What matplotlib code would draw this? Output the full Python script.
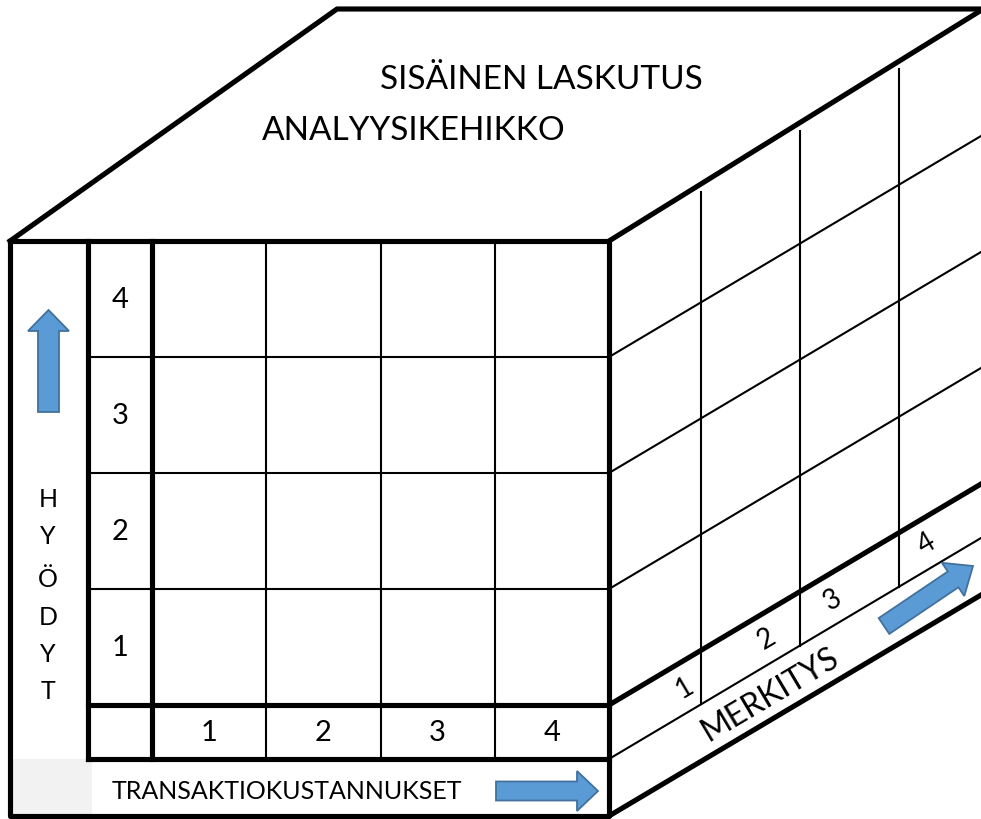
import numpy as np
import matplotlib
matplotlib.use("Agg")
import matplotlib.pyplot as plt
from matplotlib.patches import FancyArrow, Rectangle

# ---- text content ----
title_lines = ["SISÄINEN LASKUTUS", "ANALYYSIKEHIKKO"]
row_labels = ["4", "3", "2", "1"]          # HYÖDYT levels (top to bottom)
col_labels = ["1", "2", "3", "4"]          # TRANSAKTIOKUSTANNUKSET levels
depth_labels = ["1", "2", "3", "4"]        # MERKITYS levels
y_axis_name = "HYÖDYT"
x_axis_name = "TRANSAKTIOKUSTANNUKSET"
z_axis_name = "MERKITYS"

# ---- geometry (pixel space) ----
W, H = 981, 820
FL, FR, FT, FB = 10, 609, 242, 817        # front face
LAB_X, COL0 = 88, 152                     # label column borders
ROW_BOTTOM, BAND_BOTTOM = 706, 760        # numbers row / axis-title band
DEPTH_DX, DEPTH_DY = 372, -221            # depth direction of right face
TOP_BACK_L = (337, 10)
TOP_BACK_R = (980, 10)
depth_x = [701, 800, 899]                 # right-face vertical dividers
depth_label_x = [685, 767, 833, 927]

THICK, THIN = 3.7, 1.5
font = ["Lato", "DejaVu Sans"]
blue, blue_edge = "#5b9bd5", "#41719c"

fig = plt.figure(figsize=(W / 100, H / 100), dpi=100)
ax = fig.add_axes([0, 0, 1, 1])
ax.set_xlim(0, W)
ax.set_ylim(H, 0)
ax.axis("off")

def line(x, y, lw, **kw):
    ax.plot(x, y, color="black", lw=lw, solid_capstyle="projecting", **kw)

# grey corner cell
ax.add_patch(Rectangle((FL + 2, BAND_BOTTOM), LAB_X + 4 - FL - 2, FB - BAND_BOTTOM,
                       facecolor="#f2f2f2", edgecolor="none", zorder=0))

# ---- top face ----
line([FL, TOP_BACK_L[0], TOP_BACK_R[0]], [FT, TOP_BACK_L[1], TOP_BACK_R[1]], THICK)
line([TOP_BACK_R[0], FR], [TOP_BACK_R[1] + 2, FT], THICK)

# ---- front face ----
row_edges = np.linspace(FT, ROW_BOTTOM, len(row_labels) + 1)
col_edges = np.linspace(COL0, FR, len(col_labels) + 1)
for y in row_edges[1:-1]:
    line([LAB_X, FR], [y, y], THIN)
for x in col_edges[1:-1]:
    line([x, x], [FT, BAND_BOTTOM], THIN)
for y in [ROW_BOTTOM, BAND_BOTTOM]:
    line([LAB_X, FR], [y, y], THICK)
for x in [LAB_X, COL0]:
    line([x, x], [FT, BAND_BOTTOM], THICK)
line([FL, FR, FR, FL, FL], [FT, FT, FB, FB, FT], THICK)

# ---- right face ----
slope = DEPTH_DY / DEPTH_DX
for y0 in row_edges[1:-1]:
    line([FR, FR + DEPTH_DX], [y0, y0 + DEPTH_DY], THIN)
line([FR, FR + DEPTH_DX], [ROW_BOTTOM, ROW_BOTTOM + DEPTH_DY], THICK)
line([FR, FR + DEPTH_DX], [BAND_BOTTOM, BAND_BOTTOM + DEPTH_DY], THIN)
line([FR, FR + DEPTH_DX], [FB, FB + DEPTH_DY], THICK)
top_slope = (TOP_BACK_R[1] + 2 - FT) / (TOP_BACK_R[0] - FR)
for x in depth_x:
    ytop = FT + top_slope * (x - FR) + 8
    ybot = BAND_BOTTOM + slope * (x - FR)
    ax.plot([x, x], [ytop, ybot], color="black", lw=THIN)

# ---- labels ----
ax.text(541, 80, title_lines[0], fontsize=24, family=font, ha="center", va="center")
ax.text(414, 131, title_lines[1], fontsize=24, family=font, ha="center", va="center")

rc = (row_edges[:-1] + row_edges[1:]) / 2
for lab, y in zip(row_labels, rc):
    ax.text((LAB_X + COL0) / 2, y, lab, fontsize=21, family=font, ha="center", va="center")
cc = (col_edges[:-1] + col_edges[1:]) / 2
for lab, x in zip(col_labels, cc):
    ax.text(x, (ROW_BOTTOM + BAND_BOTTOM) / 2, lab, fontsize=21, family=font,
            ha="center", va="center")

ang = np.degrees(np.arctan(-slope))
for lab, x in zip(depth_labels, depth_label_x):
    y = (ROW_BOTTOM + BAND_BOTTOM) / 2 + slope * (x - FR)
    ax.text(x, y, lab, fontsize=20, family=font, ha="center", va="center",
            rotation=ang, rotation_mode="anchor")
zx = 770
ax.text(zx, (BAND_BOTTOM + FB) / 2 + slope * (zx - FR) + 2, z_axis_name, fontsize=23,
        family=font, ha="center", va="center", rotation=ang, rotation_mode="anchor")

letter_y = [500, 537, 580, 618, 655, 692]
for ch, y in zip(y_axis_name, letter_y):
    ax.text(48, y, ch, fontsize=18, family=font, ha="center", va="center")

ax.text(287, 792, x_axis_name, fontsize=18, family=font, ha="center", va="center")

# ---- arrows ----
def arrow(x, y, dx, dy, w, hw, hl):
    ax.add_patch(FancyArrow(x, y, dx, dy, width=w, head_width=hw, head_length=hl,
                            length_includes_head=True, facecolor=blue,
                            edgecolor=blue_edge, lw=1.3, zorder=3))

arrow(48.5, 413, 0, -102, 21, 41, 21)
arrow(496, 792, 102, 0, 19, 40, 21)
arrow(884, 627, 89, -60, 19, 40, 24)

fig.savefig("out.png", dpi=100)
